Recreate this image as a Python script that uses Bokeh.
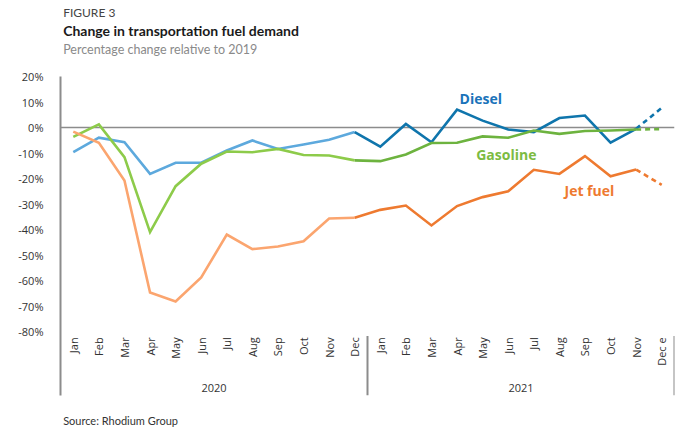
from bokeh.plotting import figure
from bokeh.models import Range1d, FixedTicker, CustomJSTickFormatter
from bokeh.layouts import column
from bokeh.embed import file_html
from bokeh.resources import INLINE
from bokeh.core.properties import value

months = ["Jan", "Feb", "Mar", "Apr", "May", "Jun", "Jul", "Aug", "Sep", "Oct", "Nov", "Dec"]
months_2021 = ["Jan", "Feb", "Mar", "Apr", "May", "Jun", "Jul", "Aug", "Sep", "Oct", "Nov", "Dec e"]
years = ["2020", "2021"]
y_ticks = [20, 10, 0, -10, -20, -30, -40, -50, -60, -70, -80]

diesel = [-9.7, -4.0, -5.8, -18.2, -13.8, -13.8, -9.0, -5.1, -8.4, -6.7, -4.8, -1.8,
          -7.5, 1.4, -5.8, 7.0, 2.7, -0.8, -1.8, 3.7, 4.7, -5.9, -0.5, 7.7]
gasoline = [-3.7, 1.2, -11.6, -41.0, -23.0, -14.2, -9.4, -9.7, -8.4, -10.8, -11.0, -12.9,
            -13.2, -10.6, -6.1, -6.0, -3.5, -4.0, -1.2, -2.5, -1.4, -1.2, -0.8, -0.6]
jet_fuel = [-1.6, -6.0, -20.8, -64.7, -68.2, -58.8, -42.0, -47.7, -46.7, -44.6, -35.7, -35.4,
            -32.3, -30.6, -38.4, -30.8, -27.3, -25.0, -16.6, -18.2, -11.2, -19.1, -16.5, -22.5]

series = [
    ("Diesel", diesel, "#5DA9DD", "#0F75AC", "#1A73BA", 15.6, 11.4),
    ("Gasoline", gasoline, "#8DCB4A", "#6DB33F", "#7DBB42", 16.25, -10.6),
    ("Jet fuel", jet_fuel, "#FBA56F", "#EE7A30", "#EE7A30", 19.7, -24.7),
]

TITLE_FONT = "Lato"
TICK_FONT = "Open Sans"
W = 700

# ---------- header ----------
HH = 68
head = figure(width=W, height=HH, output_backend="svg", toolbar_location=None,
              x_range=Range1d(0, W), y_range=Range1d(HH, 0),
              min_border=0, min_border_left=0, min_border_right=0,
              min_border_top=0, min_border_bottom=0)
head.axis.visible = False
head.grid.visible = False
head.outline_line_color = None
head.text(x=[3], y=[12], text=["FIGURE 3"], text_font=value(TITLE_FONT),
          text_font_size="12px", text_color="#444444", text_baseline="middle")
head.text(x=[3], y=[29.5], text=["Change in transportation fuel demand"],
          text_font=value(TITLE_FONT), text_font_style="bold", text_font_size="14px",
          text_color="#1a1a1a", text_baseline="middle")
head.text(x=[3], y=[49], text=["Percentage change relative to 2019"],
          text_font=value(TITLE_FONT), text_font_size="12.5px", text_color="#8a8a8a",
          text_baseline="middle")

# ---------- main chart ----------
H = 340
FL, FR, FT, FB = 60, 674, 8, 327
y_top = 20.0
px_per_unit = 2.55
y_bot = y_top - (FB - FT) / px_per_unit

p = figure(width=W, height=H, output_backend="svg", toolbar_location=None,
           x_range=Range1d(0, 24), y_range=Range1d(y_bot, y_top),
           min_border_left=FL, min_border_right=W - FR, min_border_top=FT,
           min_border_bottom=H - FB)
p.outline_line_color = None
p.grid.visible = False
p.xaxis.visible = False

ax = p.yaxis[0]
ax.ticker = FixedTicker(ticks=y_ticks)
ax.formatter = CustomJSTickFormatter(code="return tick + '%';")
ax.major_tick_line_color = None
ax.minor_tick_line_color = None
ax.axis_line_color = "#8c8c8c"
ax.axis_line_width = 2
ax.major_label_text_font = TICK_FONT
ax.major_label_text_font_size = "11px"
ax.major_label_text_color = "#333333"
ax.major_label_standoff = 11

# zero line
p.segment(x0=[0], y0=[0], x1=[24], y1=[0], line_color="#8c8c8c", line_width=1.5)

xs = [i + 0.5 for i in range(24)]
for name, vals, c20, c21, lc, lx, ly in series:
    p.line(xs[:12], vals[:12], line_color=c20, line_width=2.6, line_join="miter")
    p.line(xs[11:23], vals[11:23], line_color=c21, line_width=2.6, line_join="miter")
    p.line(xs[22:24], vals[22:24], line_color=c21, line_width=2.6, line_dash="5 4")
    p.text(x=[lx], y=[ly], text=[name], text_color=lc, text_font=value(TICK_FONT),
           text_font_style="bold", text_font_size="14px", text_baseline="middle")

labels = months + months_2021
y_lab = -81.5 - 2 / px_per_unit
p.text(x=xs, y=[y_lab] * 24, text=labels, angle=1.5708, text_align="right",
       text_baseline="middle", text_font=value(TICK_FONT), text_font_size="11px",
       text_color="#333333")
p.text(x=[6, 18], y=[-102.3, -102.3], text=years, text_align="center",
       text_baseline="middle", text_font=value(TICK_FONT), text_font_size="11px",
       text_color="#333333")
p.segment(x0=[12, 24], y0=[-81.8, -81.8], x1=[12, 24], y1=[y_bot, y_bot],
          line_color="#8c8c8c", line_width=2)

# ---------- footer ----------
FH = 26
foot = figure(width=W, height=FH, output_backend="svg", toolbar_location=None,
              x_range=Range1d(0, W), y_range=Range1d(FH, 0),
              min_border=0, min_border_left=0, min_border_right=0,
              min_border_top=0, min_border_bottom=0)
foot.axis.visible = False
foot.grid.visible = False
foot.outline_line_color = None
foot.text(x=[3], y=[12], text=["Source: Rhodium Group"], text_font=value(TITLE_FONT),
          text_font_size="11px", text_color="#333333", text_baseline="middle")

layout = column(head, p, foot, spacing=0)
open("out.html", "w").write(file_html(layout, INLINE))
